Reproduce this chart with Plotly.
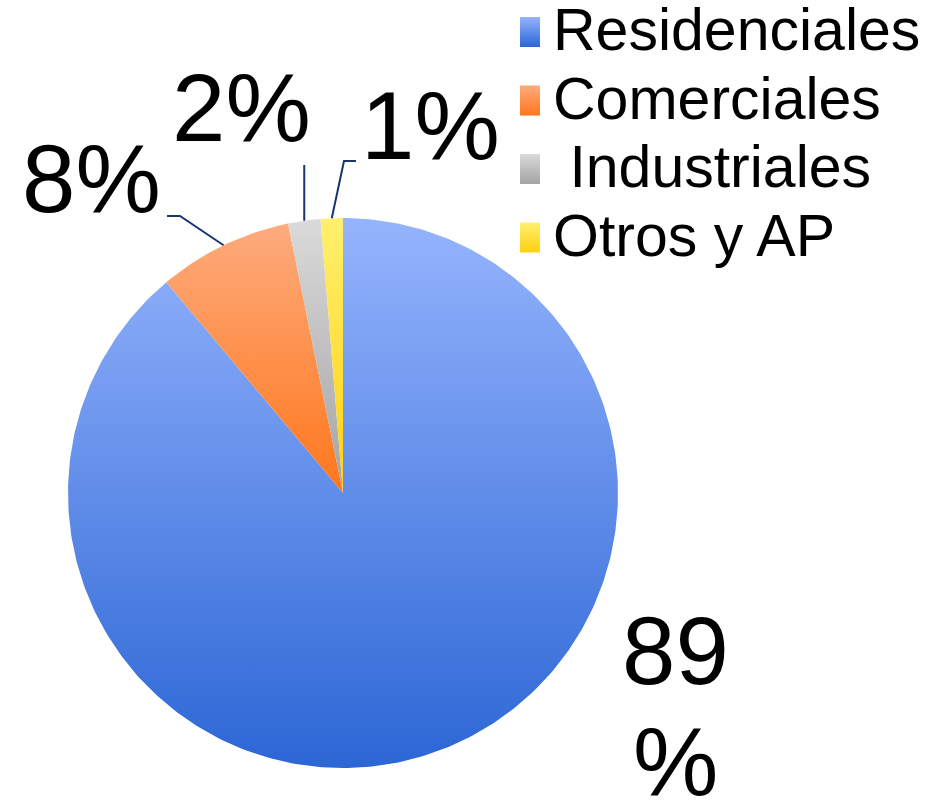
import numpy as np
import plotly.graph_objects as go

# shares of each customer type (%)
categorias = ['Residenciales', 'Comerciales', '\u00a0Industriales', 'Otros y AP']
valores = [88.9, 7.9, 1.9, 1.3]
etiquetas = ['8%', '2%', '1%']   # labels for the three small slices

# gradient colours (top, bottom) per slice
colores = [
    ('#95b4fd', '#2c66d5'),
    ('#fdab7d', '#ff761b'),
    ('#dadada', '#a3a3a3'),
    ('#fff06e', '#ffd010'),
]

W, H = 940, 801
R_PX = 275          # pie radius in pixels
CX, CY = 343, 493   # pie centre in pixels


def a_datos(px, py):
    """pixel position -> axis units (pie radius = 1)"""
    return (px - CX) / R_PX, (CY - py) / R_PX


# label centres and leader-line elbows/ends, in pixels
pos_etiquetas = [(91, 178), (241, 107), (430, 125)]
codos = [(180, 216), None, (344, 161)]
finales = [(167, 216), (None, 165), (356, 161)]

fig = go.Figure()

total = sum(valores)
acum = 0.0
medios = []
for nombre, v, (top, bottom) in zip(categorias, valores, colores):
    a0 = np.pi / 2 - 2 * np.pi * acum / total
    a1 = np.pi / 2 - 2 * np.pi * (acum + v) / total
    n = max(8, int(400 * v / total))
    ang = np.linspace(a0, a1, n)
    xs = np.concatenate([[0], np.cos(ang), [0]])
    ys = np.concatenate([[0], np.sin(ang), [0]])
    fig.add_trace(go.Scatter(
        x=xs, y=ys, mode='lines', fill='toself', name=nombre,
        line=dict(width=0, color=bottom),
        fillgradient=dict(type='vertical', colorscale=[[0, bottom], [1, top]]),
        showlegend=False, hoverinfo='skip'
    ))
    medios.append((a0 + a1) / 2)
    acum += v

# leader lines from the middle of each small slice
for i, m in enumerate(medios[1:]):
    x0, y0 = np.cos(m), np.sin(m)
    lx, ly = [x0], [y0]
    if codos[i] is not None:
        cx_, cy_ = a_datos(*codos[i])
        lx.append(cx_); ly.append(cy_)
    fx, fy = finales[i]
    ex, ey = a_datos(CX if fx is None else fx, fy)
    lx.append(x0 if fx is None else ex); ly.append(ey)
    fig.add_trace(go.Scatter(
        x=lx, y=ly, mode='lines', line=dict(color='#1a3570', width=2),
        showlegend=False, hoverinfo='skip'
    ))

fuente = 'Liberation Sans, Arial'
for txt, (px, py) in zip(etiquetas, pos_etiquetas):
    ax, ay = a_datos(px, py)
    fig.add_annotation(x=ax, y=ay, text=txt, showarrow=False,
                       font=dict(size=96, color='black', family=fuente),
                       xanchor='center', yanchor='middle')

# big slice label, split over two lines like the original
for txt, (px, py) in zip([f'{round(valores[0])}', '%'], [(675, 650), (675, 761)]):
    ax, ay = a_datos(px, py)
    fig.add_annotation(x=ax, y=ay, text=txt, showarrow=False,
                       font=dict(size=96, color='black', family=fuente),
                       xanchor='center', yanchor='middle')

# legend: gradient swatches + text
LEG_X, LEG_Y, LEG_DY = 520, 17, 68.5
for i, (nombre, (top, bottom)) in enumerate(zip(categorias, colores)):
    y_top = LEG_Y + i * LEG_DY
    x0, y0 = a_datos(LEG_X, y_top)
    x1, y1 = a_datos(LEG_X + 20, y_top + 30)
    fig.add_trace(go.Scatter(
        x=[x0, x1, x1, x0, x0], y=[y0, y0, y1, y1, y0],
        mode='lines', fill='toself', line=dict(width=0, color=bottom),
        fillgradient=dict(type='vertical', colorscale=[[0, bottom], [1, top]]),
        showlegend=False, hoverinfo='skip'
    ))
    tx, ty = a_datos(551, y_top + 13)
    fig.add_annotation(x=tx, y=ty, text=nombre, showarrow=False,
                       font=dict(size=59, color='black', family=fuente),
                       xanchor='left', yanchor='middle')

fig.update_xaxes(range=[-CX / R_PX, (W - CX) / R_PX], visible=False)
fig.update_yaxes(range=[-(H - CY) / R_PX, CY / R_PX], visible=False)

fig.update_layout(
    width=W, height=H,
    margin=dict(l=0, r=0, t=0, b=0),
    plot_bgcolor='white', paper_bgcolor='white',
    font=dict(family=fuente, color='black'),
    showlegend=False
)

fig.write_html('out.html', config={'displayModeBar': False},
               post_script="document.body.style.margin='0px';")
